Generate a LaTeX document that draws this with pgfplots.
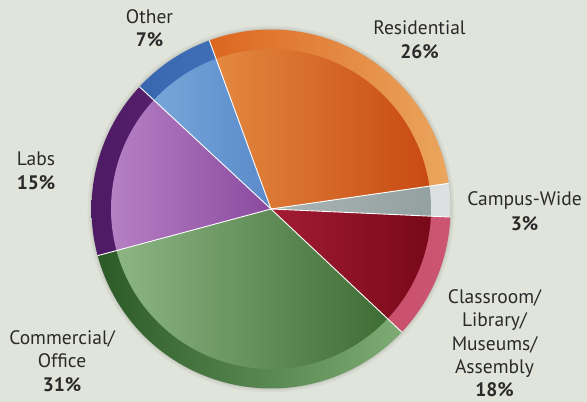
\documentclass[border=0pt]{standalone}
\usepackage{pgfplots}
\usepackage{pgfplotstable}
\pgfplotsset{compat=1.18}
\usepackage{fontspec}
\setmainfont{PT Sans}
\definecolor{bgc}{HTML}{E0E4DA}
\definecolor{txt}{HTML}{2A2A2A}
\definecolor{ResFL}{HTML}{E3883F}\definecolor{ResFR}{HTML}{C84A12}
\definecolor{ResRL}{HTML}{DC6620}\definecolor{ResRR}{HTML}{EBA65E}
\definecolor{CamFL}{HTML}{AAB4B4}\definecolor{CamFR}{HTML}{94A1A1}
\definecolor{CamRL}{HTML}{D2D8D8}\definecolor{CamRR}{HTML}{DCE0E0}
\definecolor{ClaFL}{HTML}{A31C33}\definecolor{ClaFR}{HTML}{780818}
\definecolor{ClaRL}{HTML}{C24464}\definecolor{ClaRR}{HTML}{CC5672}
\definecolor{ComFL}{HTML}{8CB584}\definecolor{ComFR}{HTML}{3E6D34}
\definecolor{ComRL}{HTML}{2C5A27}\definecolor{ComRR}{HTML}{7EAC74}
\definecolor{LabFL}{HTML}{B680C4}\definecolor{LabFR}{HTML}{8A4A9F}
\definecolor{LabRL}{HTML}{4E1A64}\definecolor{LabRR}{HTML}{62287A}
\definecolor{OthFL}{HTML}{76A6D8}\definecolor{OthFR}{HTML}{5A8ACA}
\definecolor{OthRL}{HTML}{3A66B0}\definecolor{OthRR}{HTML}{4274BC}

% drawn share of each slice (percent of the full circle), clockwise from the top
\pgfplotstableread{
name share
Residential 28.3
CampusWide 3.0
Classroom 11.3
Commercial 33.8
Labs 16.1
Other 7.5
}\slices

\def\cx{271}\def\cy{193}\def\R{179.5}\def\r{160}
\pgfmathsetmacro{\aStart}{110.1}

\begin{document}
\begin{tikzpicture}
\fill[bgc] (0,0) rectangle (587bp,402bp);
% cumulative angles
\pgfmathsetmacro{\angA}{\aStart}
\pgfplotstablegetelem{0}{share}\of\slices\pgfmathsetmacro{\angB}{\angA-3.6*\pgfplotsretval}
\pgfplotstablegetelem{1}{share}\of\slices\pgfmathsetmacro{\angC}{\angB-3.6*\pgfplotsretval}
\pgfplotstablegetelem{2}{share}\of\slices\pgfmathsetmacro{\angD}{\angC-3.6*\pgfplotsretval}
\pgfplotstablegetelem{3}{share}\of\slices\pgfmathsetmacro{\angE}{\angD-3.6*\pgfplotsretval}
\pgfplotstablegetelem{4}{share}\of\slices\pgfmathsetmacro{\angF}{\angE-3.6*\pgfplotsretval}
\pgfplotstablegetelem{5}{share}\of\slices\pgfmathsetmacro{\angG}{\angF-3.6*\pgfplotsretval}
\begin{axis}[at={(0,0)}, anchor=south west, scale only axis,
  width=587bp, height=402bp, xmin=0, xmax=587, ymin=0, ymax=402,
  axis lines=none, clip=false,
  every axis plot/.append style={no markers},
  nodes={font=\fontsize{19.5bp}{23.7bp}\selectfont, text=txt, inner sep=0pt}]
% soft shadow
\addplot[draw=none, fill=black, fill opacity=0.035, domain=0:360, samples=120] ({\cx+(\R+4)*cos(x)},{\cy+(\R+4)*sin(x)}) -- cycle;
\addplot[draw=none, fill=black, fill opacity=0.04, domain=0:360, samples=120] ({\cx+(\R+2)*cos(x)},{\cy+(\R+2)*sin(x)}) -- cycle;
\addplot[draw=none, fill=black, fill opacity=0.05, domain=0:360, samples=120] ({\cx+(\R+0.8)*cos(x)},{\cy+(\R+0.8)*sin(x)}) -- cycle;
% rims
\addplot[draw=none, left color=ResRL, right color=ResRR, domain=\angB:\angA, samples=60] ({\cx+\R*cos(x)},{\cy+\R*sin(x)}) -- (axis cs:\cx,\cy) -- cycle;
\addplot[draw=none, left color=CamRL, right color=CamRR, domain=\angC:\angB, samples=20] ({\cx+\R*cos(x)},{\cy+\R*sin(x)}) -- (axis cs:\cx,\cy) -- cycle;
\addplot[draw=none, left color=ClaRL, right color=ClaRR, domain=\angD:\angC, samples=40] ({\cx+\R*cos(x)},{\cy+\R*sin(x)}) -- (axis cs:\cx,\cy) -- cycle;
\addplot[draw=none, left color=ComRL, right color=ComRR, domain=\angE:\angD, samples=70] ({\cx+\R*cos(x)},{\cy+\R*sin(x)}) -- (axis cs:\cx,\cy) -- cycle;
\addplot[draw=none, left color=LabRL, right color=LabRR, domain=\angF:\angE, samples=40] ({\cx+\R*cos(x)},{\cy+\R*sin(x)}) -- (axis cs:\cx,\cy) -- cycle;
\addplot[draw=none, left color=OthRL, right color=OthRR, domain=\angG:\angF, samples=30] ({\cx+\R*cos(x)},{\cy+\R*sin(x)}) -- (axis cs:\cx,\cy) -- cycle;
% faces
\addplot[draw=none, left color=ResFL, right color=ResFR, domain=\angB:\angA, samples=60] ({\cx+\r*cos(x)},{\cy+\r*sin(x)}) -- (axis cs:\cx,\cy) -- cycle;
\addplot[draw=none, left color=CamFL, right color=CamFR, domain=\angC:\angB, samples=20] ({\cx+\r*cos(x)},{\cy+\r*sin(x)}) -- (axis cs:\cx,\cy) -- cycle;
\addplot[draw=none, left color=ClaFL, right color=ClaFR, domain=\angD:\angC, samples=40] ({\cx+\r*cos(x)},{\cy+\r*sin(x)}) -- (axis cs:\cx,\cy) -- cycle;
\addplot[draw=none, left color=ComFL, right color=ComFR, domain=\angE:\angD, samples=70] ({\cx+\r*cos(x)},{\cy+\r*sin(x)}) -- (axis cs:\cx,\cy) -- cycle;
\addplot[draw=none, left color=LabFL, right color=LabFR, domain=\angF:\angE, samples=40] ({\cx+\r*cos(x)},{\cy+\r*sin(x)}) -- (axis cs:\cx,\cy) -- cycle;
\addplot[draw=none, left color=OthFL, right color=OthFR, domain=\angG:\angF, samples=30] ({\cx+\r*cos(x)},{\cy+\r*sin(x)}) -- (axis cs:\cx,\cy) -- cycle;
% white separators
\addplot[white, line width=0.9pt, domain=0:\R, samples=2] ({\cx+x*cos(\angA)},{\cy+x*sin(\angA)});
\addplot[white, line width=0.9pt, domain=0:\R, samples=2] ({\cx+x*cos(\angB)},{\cy+x*sin(\angB)});
\addplot[white, line width=0.9pt, domain=0:\R, samples=2] ({\cx+x*cos(\angC)},{\cy+x*sin(\angC)});
\addplot[white, line width=0.9pt, domain=0:\R, samples=2] ({\cx+x*cos(\angD)},{\cy+x*sin(\angD)});
\addplot[white, line width=0.9pt, domain=0:\R, samples=2] ({\cx+x*cos(\angE)},{\cy+x*sin(\angE)});
\addplot[white, line width=0.9pt, domain=0:\R, samples=2] ({\cx+x*cos(\angF)},{\cy+x*sin(\angF)});
% labels (baselines in pixel rows, y measured from the top)
\node[anchor=base] at (axis cs:149.5,402-23.3) {Other};
\node[anchor=base] at (axis cs:149.5,402-46.7) {\bfseries 7\%};
\node[anchor=base] at (axis cs:419.5,402-35) {Residential};
\node[anchor=base] at (axis cs:419.5,402-59) {\bfseries 26\%};
\node[anchor=base] at (axis cs:524.5,402-206) {Campus-Wide};
\node[anchor=base] at (axis cs:524.5,402-231) {\bfseries 3\%};
\node[anchor=base] at (axis cs:494.5,402-303.3) {Classroom/};
\node[anchor=base] at (axis cs:494.5,402-326.8) {Library/};
\node[anchor=base] at (axis cs:494.5,402-350.3) {Museums/};
\node[anchor=base] at (axis cs:494.5,402-373.8) {Assembly};
\node[anchor=base] at (axis cs:494.5,402-396.3) {\bfseries 18\%};
\node[anchor=base] at (axis cs:36,402-166) {Labs};
\node[anchor=base] at (axis cs:36,402-190) {\bfseries 15\%};
\node[anchor=base] at (axis cs:62,402-344.3) {Commercial/};
\node[anchor=base] at (axis cs:62,402-368) {Office};
\node[anchor=base] at (axis cs:62,402-391.7) {\bfseries 31\%};
\end{axis}
\useasboundingbox (0,0) rectangle (587bp,402bp);
\end{tikzpicture}
\end{document}
